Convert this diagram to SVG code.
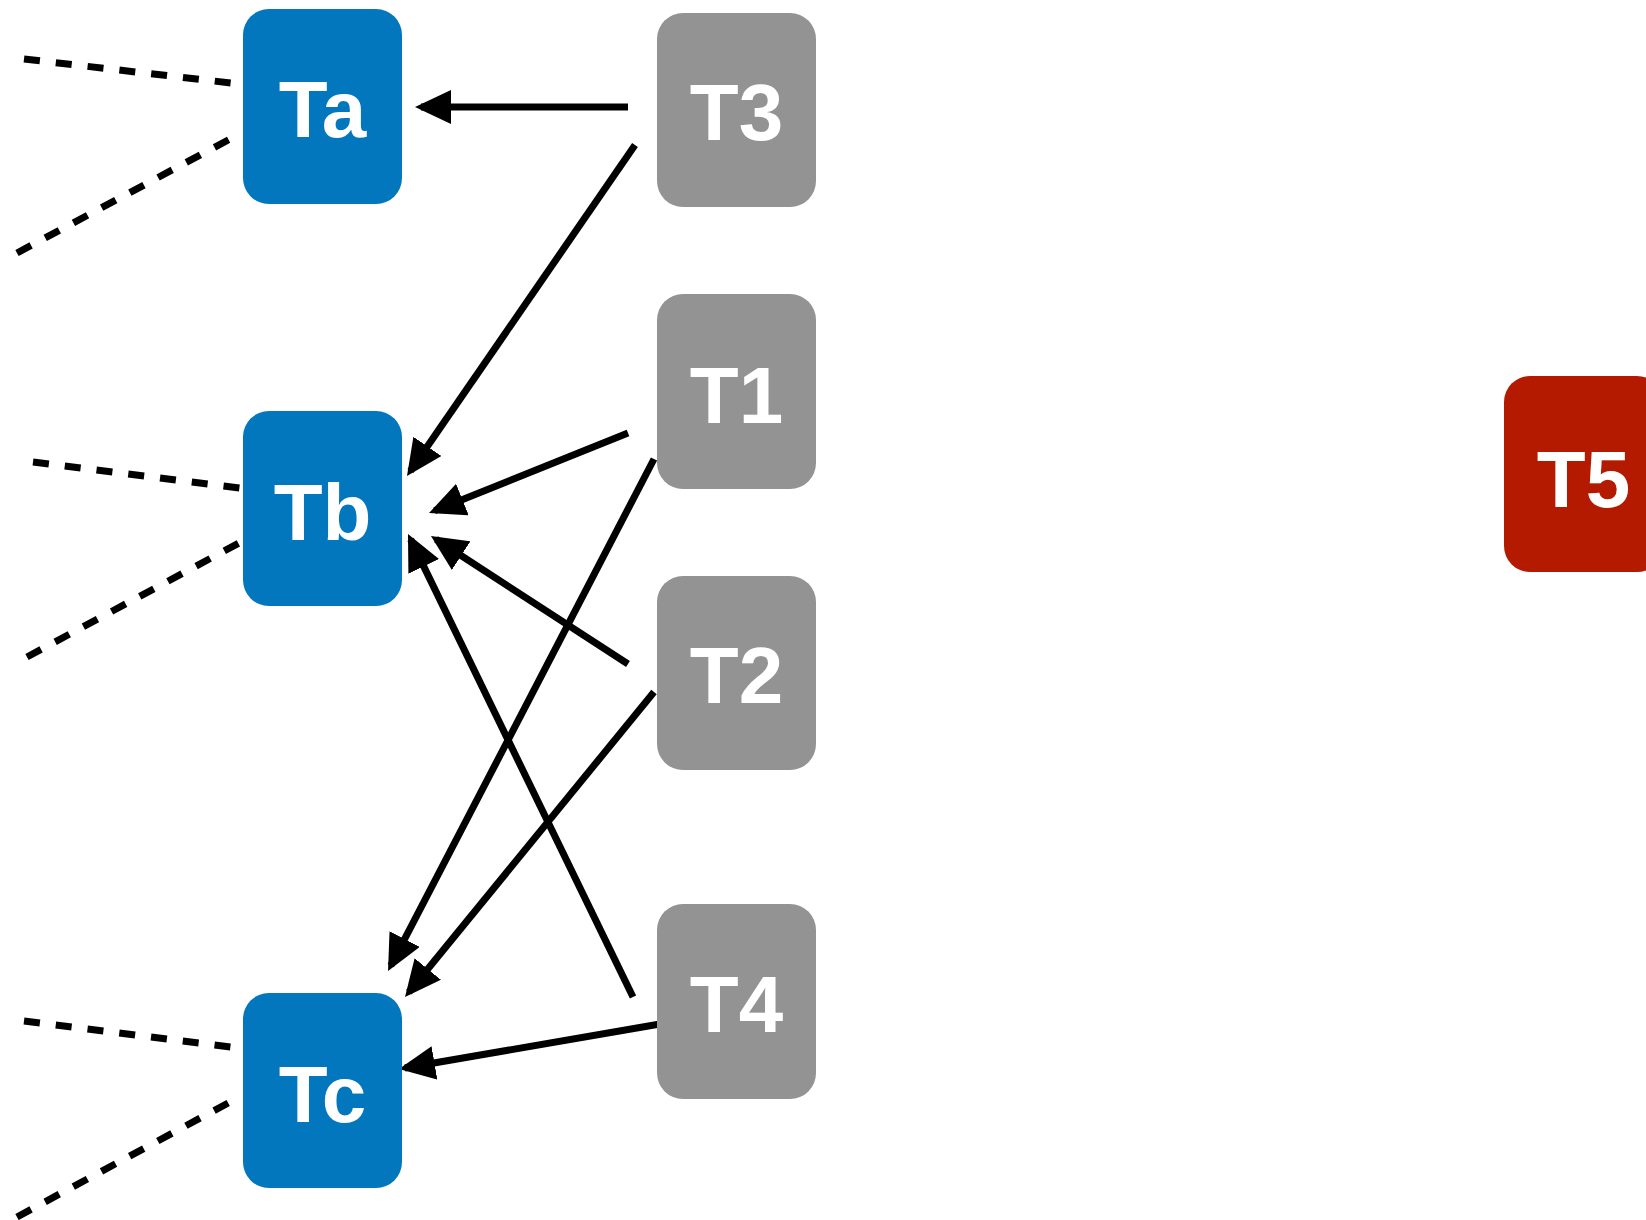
<svg xmlns="http://www.w3.org/2000/svg" width="1646" height="1220" viewBox="0 0 1646 1220">
<style>
.blue{fill:#0277BD}
.gray{fill:#939393}
.red{fill:#B41A00}
.lbl{font-family:"Liberation Sans",Arial,Helvetica,sans-serif;font-weight:bold;font-size:80px;fill:#ffffff;text-anchor:middle}
.dash{stroke:#000;stroke-width:7;stroke-dasharray:16 16;fill:none}
.arr{stroke:#000;stroke-width:7;fill:none;marker-end:url(#ah)}
</style>
<defs>
<marker id="ah" viewBox="0 0 36 34" refX="30" refY="17" markerUnits="userSpaceOnUse" markerWidth="36" markerHeight="34" orient="auto">
<path d="M0,0 L36,17 L0,34 z" fill="#000"/>
</marker>
</defs>
<rect width="1646" height="1220" fill="#fff"/>
<g id="connectors">
<line class="dash" x1="24" y1="59" x2="231" y2="83"/>
<line class="dash" x1="17" y1="253" x2="230" y2="139"/>
<line class="dash" x1="33" y1="462" x2="240" y2="488"/>
<line class="dash" x1="27" y1="657" x2="239" y2="543"/>
<line class="dash" x1="24" y1="1021" x2="231" y2="1047"/>
<line class="dash" x1="17" y1="1217" x2="230" y2="1102"/>
<line class="arr" x1="628" y1="107" x2="421" y2="107"/>
<line class="arr" x1="635" y1="145" x2="410.4" y2="471.1"/>
<line class="arr" x1="628" y1="433" x2="434.6" y2="510.8"/>
<line class="arr" x1="654" y1="459" x2="390.8" y2="965.7"/>
<line class="arr" x1="628" y1="664" x2="436" y2="539.3"/>
<line class="arr" x1="654" y1="692" x2="408.8" y2="992.3"/>
<line class="arr" x1="633" y1="997" x2="410.6" y2="539.4"/>
<line class="arr" x1="660" y1="1024" x2="404.9" y2="1068"/>
</g>
<g id="Ta"><rect class="blue" x="243" y="9" width="159" height="195" rx="26"/><text class="lbl" x="322.5" y="137">Ta</text></g>
<g id="Tb"><rect class="blue" x="243" y="411" width="159" height="195" rx="26"/><text class="lbl" x="322.5" y="540">Tb</text></g>
<g id="Tc"><rect class="blue" x="243" y="993" width="159" height="195" rx="26"/><text class="lbl" x="322.5" y="1122">Tc</text></g>
<g id="T3"><rect class="gray" x="657" y="13" width="159" height="194" rx="26"/><text class="lbl" x="736.5" y="140">T3</text></g>
<g id="T1"><rect class="gray" x="657" y="294" width="159" height="195" rx="26"/><text class="lbl" x="736.5" y="423">T1</text></g>
<g id="T2"><rect class="gray" x="657" y="576" width="159" height="194" rx="26"/><text class="lbl" x="736.5" y="703">T2</text></g>
<g id="T4"><rect class="gray" x="657" y="904" width="159" height="195" rx="26"/><text class="lbl" x="736.5" y="1032">T4</text></g>
<g id="T5"><rect class="red" x="1504" y="376" width="159" height="196" rx="26"/><text class="lbl" x="1583.5" y="507">T5</text></g>
</svg>
